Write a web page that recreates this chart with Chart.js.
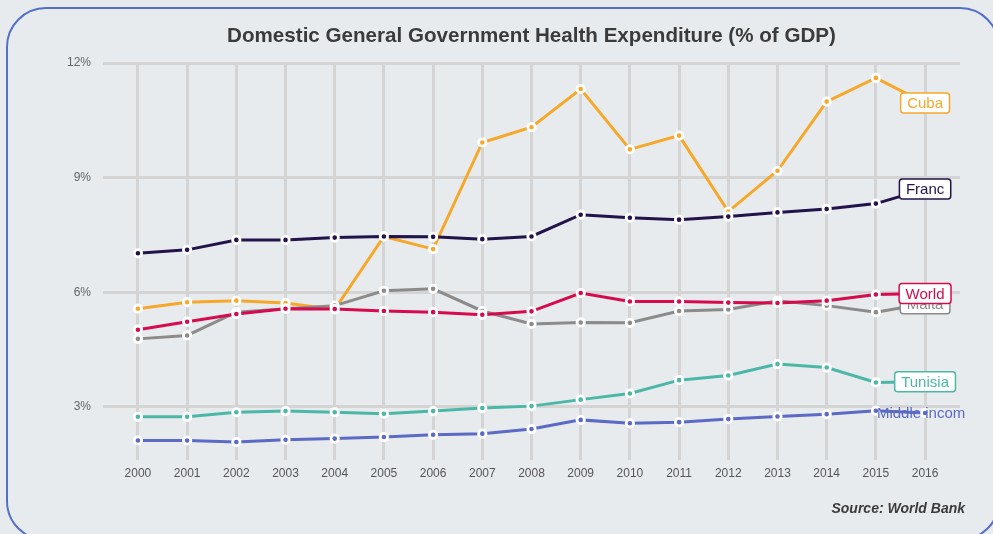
<!DOCTYPE html>
<html>
<head>
<meta charset="utf-8">
<title>Domestic General Government Health Expenditure</title>
<script src="https://cdn.jsdelivr.net/npm/chart.js@4.4.1/dist/chart.umd.min.js"></script>
<style>
    html, body {
        margin: 0;
        padding: 0;
        background: #e8ebee;
        overflow: hidden;
    }
    #frame {
        position: absolute;
        left: 6px;
        top: 7px;
        width: 990px;
        height: 530px;
        border: 2.5px solid #5470c6;
        border-radius: 40px;
    }
    #wrap {
        position: absolute;
        left: 0;
        top: 0;
        width: 993px;
        height: 534px;
    }
</style>
</head>
<body>
<div id="frame"></div>
<div id="wrap"><canvas id="chart" width="993" height="534"></canvas></div>
<script>
const years = [2000, 2001, 2002, 2003, 2004, 2005, 2006, 2007, 2008, 2009, 2010, 2011, 2012, 2013, 2014, 2015, 2016];
const yTicks = [3, 6, 9, 12];

const world = [5.02, 5.23, 5.43, 5.57, 5.56, 5.51, 5.48, 5.41, 5.50, 5.98, 5.76, 5.76, 5.73, 5.72, 5.78, 5.94, 5.97];
const france = [7.02, 7.11, 7.37, 7.37, 7.43, 7.46, 7.45, 7.39, 7.46, 8.03, 7.95, 7.90, 7.98, 8.09, 8.18, 8.32, 8.70];
const middleIncome = [2.12, 2.12, 2.08, 2.14, 2.17, 2.21, 2.27, 2.30, 2.42, 2.66, 2.57, 2.60, 2.68, 2.75, 2.81, 2.90, 2.84];
const tunisia = [2.74, 2.74, 2.86, 2.89, 2.86, 2.82, 2.89, 2.97, 3.02, 3.19, 3.35, 3.70, 3.82, 4.12, 4.03, 3.64, 3.66];
const malta = [4.78, 4.87, 5.48, 5.57, 5.65, 6.04, 6.09, 5.51, 5.17, 5.21, 5.20, 5.51, 5.55, 5.78, 5.65, 5.48, 5.70];
const cuba = [5.57, 5.74, 5.78, 5.72, 5.55, 7.46, 7.13, 9.92, 10.32, 11.32, 9.74, 10.10, 8.11, 9.18, 10.99, 11.61, 10.95];

// first dataset is painted last, so it ends up on top
const series = [
    { name: 'World', label: 'World', values: world, color: '#d50b4e', boxed: true },
    { name: 'France', label: 'Franc', values: france, color: '#22134a', boxed: true },
    { name: 'Middle income', label: 'Middle incom', values: middleIncome, color: '#5b6ac4', boxed: false },
    { name: 'Tunisia', label: 'Tunisia', values: tunisia, color: '#4bb7a7', boxed: true },
    { name: 'Malta', label: 'Malta', values: malta, color: '#8b8b8b', boxed: true },
    { name: 'Cuba', label: 'Cuba', values: cuba, color: '#f5a82a', boxed: true }
];

// order in which the end labels are stacked
const labelOrder = ['Cuba', 'Malta', 'World', 'France', 'Tunisia', 'Middle income'];

function roundRect(ctx, x, y, w, h, r) {
    ctx.beginPath();
    ctx.moveTo(x + r, y);
    ctx.lineTo(x + w - r, y);
    ctx.arcTo(x + w, y, x + w, y + r, r);
    ctx.lineTo(x + w, y + h - r);
    ctx.arcTo(x + w, y + h, x + w - r, y + h, r);
    ctx.lineTo(x + r, y + h);
    ctx.arcTo(x, y + h, x, y + h - r, r);
    ctx.lineTo(x, y + r);
    ctx.arcTo(x, y, x + r, y, r);
    ctx.closePath();
}

const endLabels = {
    id: 'endLabels',
    afterDatasetsDraw(chart) {
        const ctx = chart.ctx;
        ctx.save();
        ctx.font = '15px "Liberation Sans", Arial, sans-serif';
        ctx.textBaseline = 'middle';
        ctx.textAlign = 'center';
        labelOrder.forEach(name => {
            const i = series.findIndex(s => s.name === name);
            const s = series[i];
            const pts = chart.getDatasetMeta(i).data;
            const p = pts[pts.length - 1];
            const w = ctx.measureText(s.label).width;
            if (s.boxed) {
                const bw = w + 13;
                const bh = 20;
                roundRect(ctx, p.x - bw / 2, p.y - bh / 2, bw, bh, 3);
                ctx.fillStyle = '#ffffff';
                ctx.fill();
                ctx.lineWidth = 1.5;
                ctx.strokeStyle = s.color;
                ctx.stroke();
            }
            ctx.fillStyle = s.color;
            ctx.fillText(s.label, s.boxed ? p.x : p.x - 4, p.y + 1);
        });
        ctx.restore();
    }
};

const headings = {
    id: 'headings',
    afterDraw(chart) {
        const ctx = chart.ctx;
        const area = chart.chartArea;
        ctx.save();
        ctx.fillStyle = '#3b3b3b';
        ctx.textBaseline = 'middle';
        ctx.textAlign = 'center';
        ctx.font = 'bold 20.6px "Liberation Sans", Arial, sans-serif';
        ctx.fillText('Domestic General Government Health Expenditure (% of GDP)', (area.left + area.right) / 2, 36);
        ctx.textAlign = 'right';
        ctx.font = 'italic bold 14px "Liberation Sans", Arial, sans-serif';
        ctx.fillText('Source: World Bank', 965, 509);
        ctx.restore();
    }
};

new Chart(document.getElementById('chart'), {
    type: 'line',
    data: {
        datasets: series.map(s => ({
            label: s.name,
            data: years.map((yr, j) => ({ x: yr, y: s.values[j] })),
            borderColor: s.color,
            backgroundColor: s.color,
            borderWidth: 3,
            tension: 0,
            pointRadius: 3.7,
            pointHoverRadius: 3.7,
            pointBorderWidth: 2.8,
            pointBorderColor: '#ffffff',
            pointBackgroundColor: s.color
        }))
    },
    options: {
        responsive: false,
        animation: false,
        events: [],
        layout: { padding: { left: 0, right: 33, top: 63, bottom: 0 } },
        plugins: {
            legend: { display: false },
            title: { display: false },
            tooltip: { enabled: false }
        },
        scales: {
            x: {
                type: 'linear',
                min: 1999.29,
                max: 2016.71,
                afterBuildTicks: scale => { scale.ticks = years.map(v => ({ value: v })); },
                afterFit: scale => { scale.height = 74; },
                grid: { color: '#d4d4d4', lineWidth: 3, drawTicks: false },
                border: { display: false },
                ticks: {
                    autoSkip: false,
                    maxRotation: 0,
                    padding: 6,
                    color: '#555555',
                    font: { family: '"Liberation Sans", Arial, sans-serif', size: 12 },
                    callback: v => String(v)
                }
            },
            y: {
                min: 1.61,
                max: 12,
                afterBuildTicks: scale => { scale.ticks = yTicks.map(v => ({ value: v })); },
                afterFit: scale => { scale.width = 103; },
                grid: { color: '#d4d4d4', lineWidth: 3, drawTicks: false },
                border: { display: false },
                ticks: {
                    padding: 12,
                    color: '#666666',
                    font: { family: '"Liberation Sans", Arial, sans-serif', size: 12 },
                    callback: v => v + '%'
                }
            }
        }
    },
    plugins: [endLabels, headings]
});
</script>
</body>
</html>
